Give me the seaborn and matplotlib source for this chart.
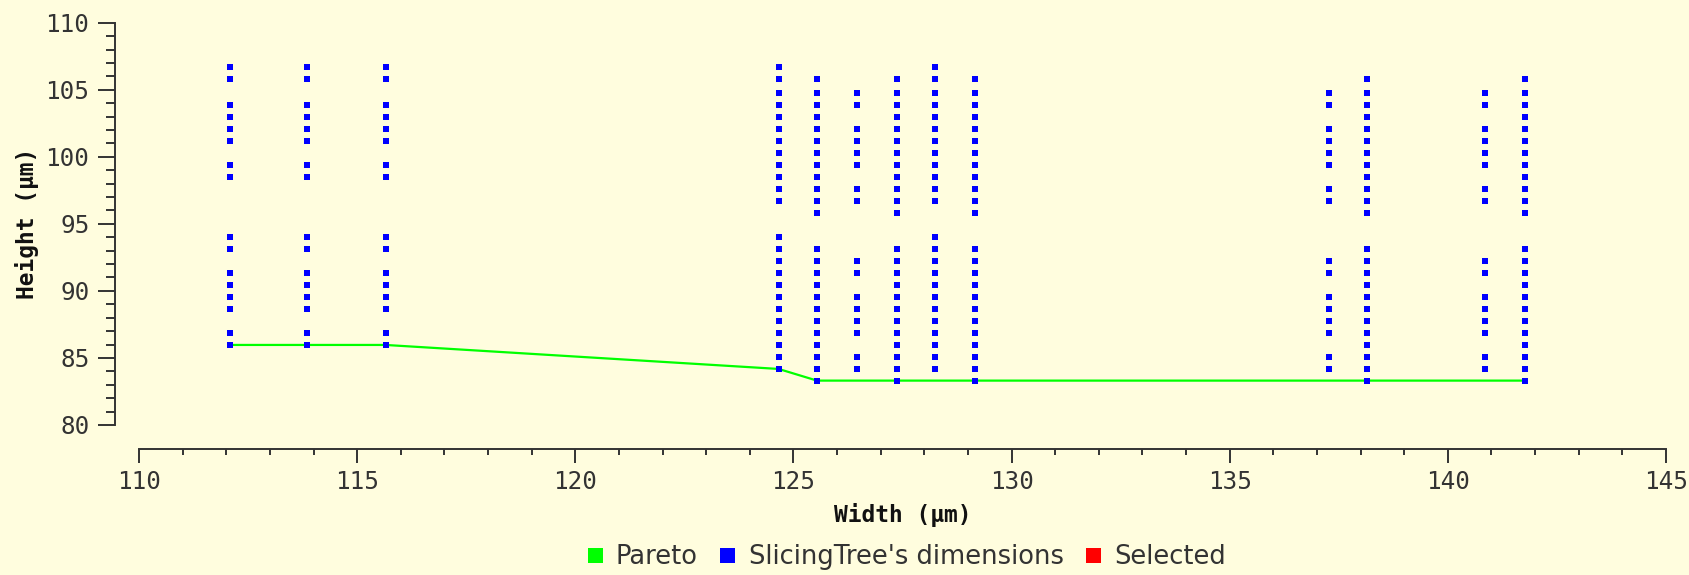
import matplotlib
matplotlib.use("Agg")
import matplotlib.pyplot as plt
from matplotlib.lines import Line2D
import seaborn as sns
import pandas as pd
import numpy as np

# ---- data ----
col_widths = [112.08, 113.86, 115.65, 124.66, 125.54, 126.45, 127.37,
              128.25, 129.16, 137.27, 138.14, 140.85, 141.76]
col_pattern = ["D", "D", "D", "A", "B", "C", "B", "A", "B", "C", "B", "C", "B"]

heights_A = [106.72, 105.80, 104.76, 103.86, 102.97, 102.07, 101.18, 100.28,
             99.39, 98.49, 97.60, 96.70, 94.02, 93.12, 92.23, 91.33, 90.44,
             89.54, 88.65, 87.75, 86.86, 85.97, 85.07, 84.18]
heights_B = [105.80, 104.76, 103.86, 102.97, 102.07, 101.18, 100.28, 99.39,
             98.49, 97.60, 96.70, 95.81, 93.12, 92.23, 91.33, 90.44, 89.54,
             88.65, 87.75, 86.86, 85.97, 85.07, 84.18, 83.31]
heights_C = [104.76, 103.86, 102.07, 101.18, 100.28, 99.39, 97.60, 96.70,
             92.23, 91.33, 89.54, 88.65, 87.75, 86.86, 85.07, 84.18]
heights_D = [106.72, 105.80, 103.86, 102.97, 102.07, 101.18, 99.39, 98.49,
             94.02, 93.12, 91.33, 90.44, 89.54, 88.65, 86.86, 85.97]

pareto_w = [112.08, 113.86, 115.65, 124.66, 125.54, 127.37, 129.16, 138.14, 141.76]
pareto_h = [85.97, 85.97, 85.97, 84.18, 83.31, 83.31, 83.31, 83.31, 83.31]

series_names = ["Pareto", "SlicingTree's dimensions", "Selected"]
series_colors = ["#00FF00", "#0000FF", "#FF0000"]

# ---- build tables ----
patterns = {"A": heights_A, "B": heights_B, "C": heights_C, "D": heights_D}
rows = []
for w, p in zip(col_widths, col_pattern):
    for h in patterns[p]:
        rows.append((w, h))
dims = pd.DataFrame(rows, columns=["width", "height"])
pareto = pd.DataFrame({"width": pareto_w, "height": pareto_h})

BG = "#FFFDDE"
TXT = "#333333"
sns.set_theme(style="white")
plt.rcParams["font.family"] = ["DejaVu Sans"]

W, H = 1689, 575
fig = plt.figure(figsize=(W / 100, H / 100), dpi=100, facecolor=BG)
x0, x1 = 139, 1666
y0, y1 = 22.7, 425
ax = fig.add_axes([x0 / W, 1 - y1 / H, (x1 - x0) / W, (y1 - y0) / H])
ax.set_facecolor(BG)

sns.lineplot(data=pareto, x="width", y="height", ax=ax, color=series_colors[0],
             lw=1.6, sort=False, estimator=None, zorder=2)
sns.scatterplot(data=dims, x="width", y="height", ax=ax, color=series_colors[1],
                marker="s", s=20, linewidth=0, zorder=3)

ax.set_xlim(110, 145)
ax.set_ylim(80, 110)
ax.set_xticks(np.arange(110, 146, 5))
ax.set_yticks(np.arange(80, 111, 5))
ax.set_xticks(np.arange(110, 146, 1), minor=True)
ax.set_yticks(np.arange(80, 111, 1), minor=True)

for s in ["top", "right"]:
    ax.spines[s].set_visible(False)
for s in ["left", "bottom"]:
    ax.spines[s].set_position(("outward", 17.3))
    ax.spines[s].set_color(TXT)
    ax.spines[s].set_linewidth(1.4)

mono = "DejaVu Sans Mono"
ax.tick_params(which="both", bottom=True, left=True, top=False, right=False,
               direction="out", color=TXT, width=1.4)
ax.tick_params(axis="x", which="major", length=10, labelsize=17.5, labelcolor=TXT, pad=5)
ax.tick_params(axis="x", which="minor", length=4.2)
ax.tick_params(axis="y", which="major", length=12.5, labelsize=17.5, labelcolor=TXT, pad=6)
ax.tick_params(axis="y", which="minor", length=6.2)
for lab in ax.get_xticklabels() + ax.get_yticklabels():
    lab.set_family(mono)

ax.set_xlabel("Width (µm)", family=mono, fontweight="bold", fontsize=16.5, color="#111111")
ax.set_ylabel("Height (µm)", family=mono, fontweight="bold", fontsize=16.5, color="#111111")
ax.xaxis.set_label_coords(0.5, (y1 - 515) / (y1 - y0))
ax.xaxis.label.set_verticalalignment("center")
ax.yaxis.set_label_coords((27 - x0) / (x1 - x0), 0.5)
ax.yaxis.label.set_verticalalignment("center")

handles = [Line2D([], [], marker="s", ls="", color=c, markersize=10.8, markeredgewidth=0)
           for c in series_colors]
fig.legend(handles, series_names, loc="center", bbox_to_anchor=(904 / W, 1 - 557 / H),
           ncol=3, frameon=False, fontsize=18.5, handletextpad=0.33, columnspacing=0.65,
           handlelength=1.0, labelcolor=TXT)

fig.savefig("out.png", dpi=100, facecolor=BG)
